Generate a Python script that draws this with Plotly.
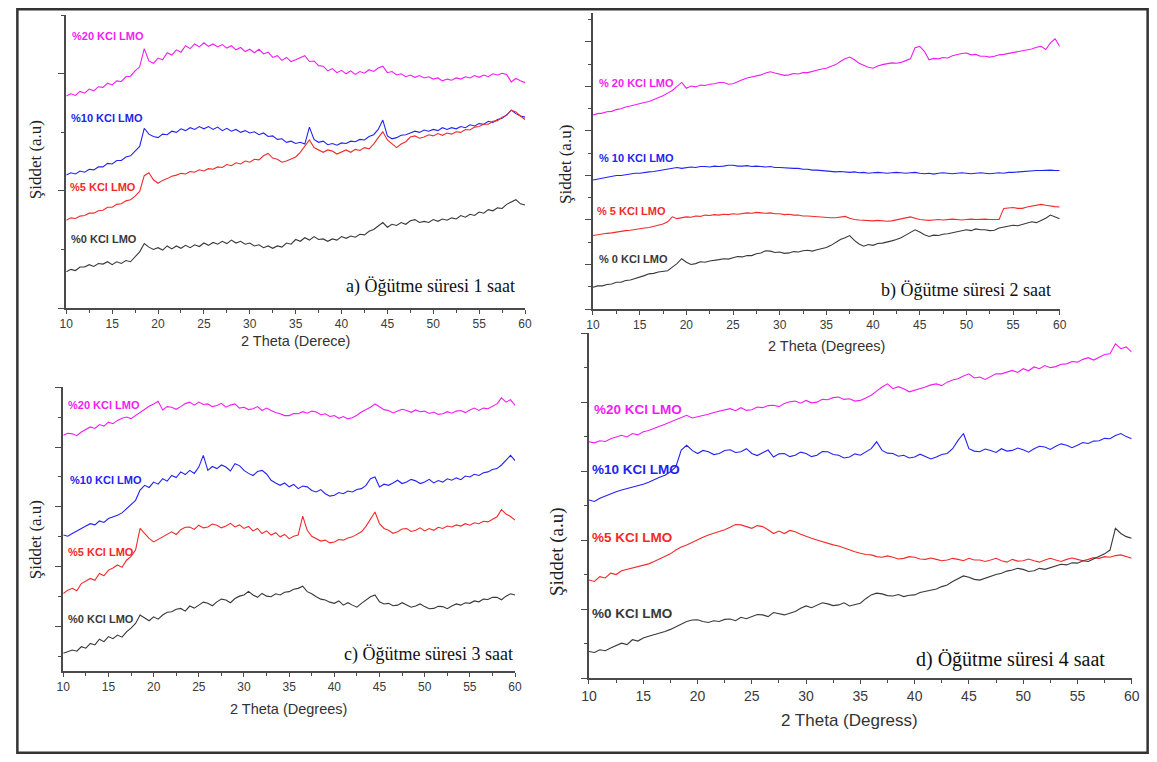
import plotly.graph_objects as go

# 2-theta scan grid (degrees), 0.5 degree steps from 10 to 60
THETA = [10 + 0.5 * i for i in range(101)]

# ---------- panel a) 1 saat ----------
A20 = [362,366,363,370,367,374,371,378,377,384,381,388,387,395,396,405,412,443,422,418,427,424,436,432,441,437,448,443,451,446,453,447,451,446,450,444,448,441,445,438,442,436,442,434,437,428,431,423,428,421,424,428,431,421,422,414,413,405,409,402,406,400,405,399,404,401,407,404,410,413,402,404,398,400,395,398,394,397,393,395,391,393,388,391,389,393,391,395,393,397,394,398,395,400,398,401,399,386,392,388,385]
A10 = [227,231,229,234,232,237,236,241,241,247,246,252,252,258,260,268,276,307,297,293,291,297,296,302,300,306,303,308,305,310,306,310,305,309,303,307,302,305,300,303,299,301,296,299,293,294,288,289,283,285,281,283,280,309,288,283,285,279,281,278,282,281,285,284,288,287,293,296,305,321,294,289,291,295,296,299,302,300,304,302,305,303,308,305,308,306,310,308,313,311,315,314,319,317,322,324,330,338,332,328,326]
A5 = [150,154,153,157,158,162,162,166,167,172,172,177,178,183,185,191,199,226,231,219,213,218,221,225,227,230,229,233,232,236,234,238,237,241,240,245,243,248,246,251,249,254,253,260,264,256,254,249,251,255,258,266,276,287,274,270,266,270,268,263,266,270,266,271,269,274,272,280,291,301,287,280,274,280,284,292,294,290,292,296,294,298,295,299,297,301,300,305,304,309,310,314,314,319,320,326,329,338,335,328,322]
A0 = [62,66,64,70,70,74,71,76,75,79,74,79,76,81,79,88,96,110,104,100,103,99,106,101,106,102,107,103,108,105,111,107,112,109,114,110,116,111,114,109,111,106,108,103,106,102,106,104,111,109,117,114,120,116,122,117,118,114,118,116,122,119,123,121,126,125,131,134,140,146,138,143,141,146,143,149,151,146,148,146,151,148,152,150,154,152,158,155,160,158,164,162,168,166,171,170,177,181,185,178,176]

# ---------- panel b) 2 saat ----------
B20 = [436,439,440,443,444,448,450,454,456,459,461,464,466,470,474,479,485,491,500,509,496,501,499,503,502,505,506,509,509,505,506,511,515,519,521,524,526,530,533,530,528,525,526,529,528,531,531,534,536,539,541,545,549,556,562,566,560,552,547,543,541,546,549,551,553,552,554,558,562,587,590,579,560,563,562,565,564,569,572,574,575,571,572,568,568,566,568,571,572,574,575,578,579,581,584,588,590,583,598,607,590]
B10 = [290,292,294,295,297,300,300,302,303,305,305,307,308,309,311,313,314,317,318,316,317,319,318,320,320,319,321,320,321,323,323,321,321,322,320,321,320,319,320,318,318,317,317,316,316,314,314,312,312,311,311,309,308,309,308,307,308,306,307,305,306,307,306,305,306,307,306,305,306,307,305,304,305,303,305,306,305,304,305,306,305,304,305,306,305,304,305,306,305,307,307,308,308,309,310,311,311,312,312,311,311]
B5 = [165,167,168,170,171,173,174,176,177,179,180,182,183,186,188,191,196,207,203,205,207,206,209,208,211,210,212,211,213,212,214,213,214,216,215,217,216,215,216,214,214,212,213,211,211,209,209,208,207,206,206,205,205,207,208,204,201,200,199,198,198,199,198,197,198,200,202,205,207,204,201,200,199,200,201,200,201,202,201,200,201,202,201,202,202,201,201,201,226,227,228,226,226,229,231,233,235,233,231,230,229]
B0 = [49,52,52,55,56,60,60,64,65,68,71,75,79,80,83,84,86,94,102,113,105,100,102,106,105,108,109,111,113,112,115,118,117,120,120,124,126,131,130,127,128,125,126,129,128,131,132,130,133,136,138,143,150,156,160,165,154,146,141,145,143,147,148,150,153,156,160,166,173,178,173,167,163,166,165,168,169,171,173,176,178,176,180,178,178,176,177,182,184,186,188,187,190,193,196,194,199,204,211,207,203]

# ---------- panel c) 3 saat ----------
C20 = [839,846,844,838,850,858,867,862,875,870,883,878,889,896,900,895,905,918,928,936,944,953,924,935,933,926,935,945,950,940,950,942,944,935,939,946,933,940,944,930,933,925,928,935,922,930,922,915,911,905,905,912,911,918,913,920,917,908,911,902,905,896,902,894,898,906,917,925,933,944,933,925,922,914,920,926,922,916,924,918,920,912,917,909,911,918,913,920,922,915,924,930,922,930,928,935,944,964,950,958,939]
C10 = [506,502,511,520,528,536,544,540,553,548,561,566,572,580,594,605,622,656,672,665,683,676,694,686,705,698,717,708,722,712,733,772,722,735,728,740,733,720,744,738,722,712,705,718,722,710,689,680,672,680,667,675,661,670,667,655,650,658,644,636,639,648,644,653,650,658,661,672,694,700,667,676,672,680,689,678,683,692,687,678,683,692,680,688,683,694,689,697,691,703,700,709,705,714,717,725,728,740,755,772,755]
C5 = [311,322,328,320,344,352,361,355,378,370,389,396,406,398,422,435,456,528,511,495,483,492,500,510,517,508,524,532,533,525,539,530,533,543,539,530,536,545,533,540,528,535,520,528,511,520,506,514,500,508,494,502,506,569,522,502,494,486,489,480,483,491,489,496,500,508,517,535,561,583,544,528,522,512,517,526,528,518,522,530,520,528,522,532,528,536,533,540,536,544,539,547,544,552,550,558,567,591,576,568,556]
C0 = [111,116,122,118,133,128,144,139,158,150,167,160,172,165,183,195,211,239,228,220,233,225,239,248,250,258,261,252,269,262,272,282,278,270,283,292,289,280,294,302,306,318,306,298,311,302,300,310,306,315,317,325,328,335,317,310,300,292,289,282,278,286,272,280,272,265,278,290,300,306,283,276,278,270,272,280,272,265,269,276,267,260,261,268,267,260,269,276,272,280,278,286,283,292,291,298,298,290,302,310,306]

# ---------- panel d) 4 saat ----------
D20 = [685,682,688,686,694,700,704,699,709,705,714,718,723,730,736,742,749,756,762,754,757,762,765,770,774,779,781,775,784,776,778,786,784,790,791,787,796,801,803,797,805,798,800,808,807,813,815,808,810,803,805,812,820,832,844,853,839,845,839,830,834,840,844,850,853,848,858,864,868,876,882,870,873,866,875,882,882,888,892,886,897,891,902,897,906,900,903,910,911,918,916,924,929,922,931,938,940,969,955,960,945]
D10 = [516,512,521,528,535,540,545,549,554,558,562,568,576,582,588,598,612,661,675,660,651,660,656,648,651,660,662,654,656,665,651,645,653,661,641,650,651,642,646,655,651,642,646,657,656,648,646,638,641,650,646,655,665,685,660,652,651,643,646,638,641,649,643,635,641,648,651,665,689,709,665,658,656,664,660,654,665,658,660,667,662,655,665,672,670,663,672,679,675,668,675,683,680,687,688,695,694,703,709,700,694]
D5 = [284,280,294,290,304,300,311,315,318,322,325,331,338,345,352,360,371,380,386,394,402,408,415,420,424,430,437,445,444,438,434,442,439,430,419,426,419,428,424,417,410,405,400,395,391,386,383,377,371,366,362,358,357,352,350,354,350,345,347,352,350,345,344,348,344,340,342,347,344,340,347,342,342,338,342,347,340,336,344,339,340,345,340,336,342,347,342,338,344,348,344,340,344,349,347,352,350,355,357,352,347]
D0 = [77,74,82,79,87,94,101,97,111,107,116,121,125,130,135,141,149,157,164,168,169,164,161,166,164,170,171,166,176,172,178,184,183,178,190,186,183,188,193,202,209,204,212,218,215,210,212,218,209,214,217,230,241,246,244,239,238,242,236,240,241,248,251,256,258,265,270,280,289,296,292,286,284,290,294,300,304,310,313,318,315,309,311,318,315,320,323,330,328,334,333,340,338,345,352,360,371,434,419,410,405]

SERIES_NAMES = ["%20 KCl LMO", "%10 KCl LMO", "%5 KCl LMO", "%0 KCl LMO"]
COLORS = ["#f21cf2", "#2323f0", "#f22a2a", "#383838"]

# figure size and the observed placement of the figure inside the page
W, H = 1149, 746
X0, XS = 15.7, 0.9866   # horizontal: screen = X0 + XS * figure_px
Y0 = 8                  # vertical: screen = Y0 + figure_px

def px_x(s):
    return (s - X0) / XS / W
def px_y(s):
    return 1 - (s - Y0) / H

panels = [
    dict(key="", data=[A20, A10, A5, A0], xd=(66, 525), yd=(308, 15), yr=[0, 500.5], dt=200, mdt=100),
    dict(key="2", data=[B20, B10, B5, B0], xd=(593, 1060), yd=(309, 13), yr=[0, 665], dt=100, mdt=50),
    dict(key="3", data=[C20, C10, C5, C0], xd=(63, 515), yd=(671, 387), yr=[52, 1000.5], dt=200, mdt=100),
    dict(key="4", data=[D20, D10, D5, D0], xd=(589, 1132), yd=(678, 333), yr=[0, 1000.5], dt=200, mdt=100),
]

fig = go.Figure()
layout = dict(width=W, height=H, margin=dict(l=0, r=0, t=0, b=0),
              paper_bgcolor="white", plot_bgcolor="white", showlegend=False)

AX = "#4a4a4a"
for i, p in enumerate(panels):
    k = p["key"]
    for vals, name, col in zip(p["data"], SERIES_NAMES, COLORS):
        fig.add_trace(go.Scatter(x=THETA, y=vals, mode="lines", name=name,
                                 line=dict(color=col, width=1.1),
                                 xaxis="x" + k, yaxis="y" + k))
    big = (i == 3)
    layout["xaxis" + k] = dict(
        domain=[px_x(p["xd"][0]), px_x(p["xd"][1])], anchor="y" + k,
        range=[10, 60], tick0=10, dtick=5, ticks="outside", ticklen=4, tickwidth=1.2,
        tickcolor=AX, showline=True, linecolor=AX, linewidth=1.6, showgrid=False, zeroline=False,
        minor=dict(dtick=2.5, tick0=10, ticks="outside", ticklen=3, tickwidth=1, tickcolor=AX),
        tickfont=dict(family="Liberation Sans, Arial", size=14 if big else 12, color="#3a3a3a"))
    layout["yaxis" + k] = dict(
        domain=[px_y(p["yd"][0]), px_y(p["yd"][1])], anchor="x" + k,
        range=p["yr"], tick0=0, dtick=p["dt"], ticks="outside", ticklen=6, tickwidth=1.2,
        tickcolor=AX, showline=True, linecolor=AX, linewidth=1.6, showgrid=False, zeroline=False,
        showticklabels=False,
        minor=dict(dtick=p["mdt"], tick0=0, ticks="outside", ticklen=3.5, tickwidth=1, tickcolor=AX))

fig.update_layout(**layout)

ann = []
def add_text(text, x, y, size, color="#222", family="Liberation Sans, Arial", xanchor="left", angle=0, bold=False):
    t = "<b>%s</b>" % text if bold else text
    ann.append(dict(text=t, x=px_x(x), y=px_y(y), xref="paper", yref="paper", showarrow=False,
                    xanchor=xanchor, yanchor="middle", textangle=angle,
                    font=dict(family=family, size=size, color=color)))

# series labels inside panels
label_pos = {
    "": ([(70, 36), (69, 118), (68, 187), (69, 239)], ["%20 KCl LMO", "%10 KCl LMO", "%5 KCl LMO", "%0 KCl LMO"], 11),
    "2": ([(597, 83), (597, 158), (595, 211), (597, 259)], ["% 20 KCl LMO", "% 10 KCl LMO", "% 5 KCl LMO", "% 0 KCl LMO"], 11),
    "3": ([(66, 405), (68, 480), (66, 552), (66, 619)], ["%20 KCl LMO", "%10 KCl LMO", "%5 KCl LMO", "%0 KCl LMO"], 11),
    "4": ([(592, 409), (590, 469), (590, 537), (590, 613)], ["%20 KCl LMO", "%10 KCl LMO", "%5 KCl LMO", "%0 KCl LMO"], 13.5),
}
for k, (pos, texts, sz) in label_pos.items():
    for (x, y), t, c in zip(pos, texts, COLORS):
        add_text(t, x, y, sz, color=c, bold=True)

SERIF = "Liberation Serif, Times New Roman"
# panel captions
add_text("a) Öğütme süresi 1 saat", 517, 286, 18, color="#111", family=SERIF, xanchor="right")
add_text("b) Öğütme süresi 2 saat", 1053, 291, 18, color="#111", family=SERIF, xanchor="right")
add_text("c) Öğütme süresi 3 saat", 515, 654, 18, color="#111", family=SERIF, xanchor="right")
add_text("d) Öğütme süresi 4 saat", 1107, 659, 20, color="#111", family=SERIF, xanchor="right")

# x-axis titles
add_text("2 Theta (Derece)", 295, 341, 14.5, color="#333", xanchor="center")
add_text("2 Theta (Degrees)", 827, 346, 14.5, color="#333", xanchor="center")
add_text("2 Theta (Degrees)", 288, 709, 14.5, color="#333", xanchor="center")
add_text("2 Theta (Degress)", 850, 720, 17, color="#333", xanchor="center")

# y-axis titles
add_text("Şiddet (a.u)", 35, 160, 17, color="#222", family=SERIF, xanchor="center", angle=-90)
add_text("Şiddet (a.u)", 565, 165, 17, color="#222", family=SERIF, xanchor="center", angle=-90)
add_text("Şiddet (a.u)", 35, 540, 17, color="#222", family=SERIF, xanchor="center", angle=-90)
add_text("Şiddet (a.u)", 557, 552, 19, color="#222", family=SERIF, xanchor="center", angle=-90)

fig.update_layout(annotations=ann)

# outer frame (as close to the page edge as the figure allows)
fig.add_shape(type="rect", xref="paper", yref="paper",
              x0=0.0012, x1=0.9988, y0=px_y(752.8), y1=px_y(9.3),
              line=dict(color="#333333", width=2.5), fillcolor="rgba(0,0,0,0)")

fig.write_html("out.html")
